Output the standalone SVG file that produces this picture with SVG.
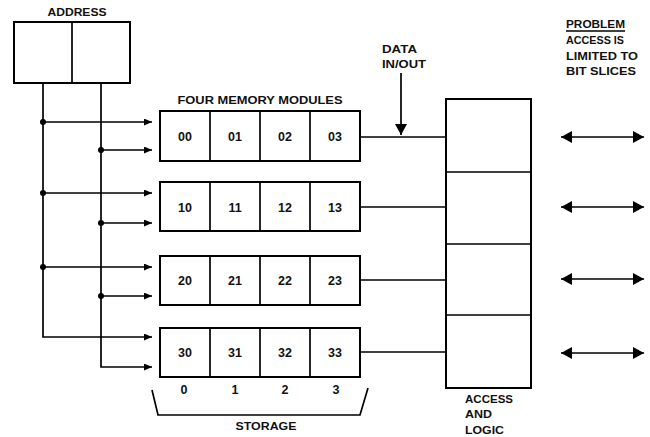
<svg xmlns="http://www.w3.org/2000/svg" width="650" height="437" viewBox="0 0 650 437">
<style>
.ln{stroke:#000;stroke-width:1.7;fill:none}
.bx{stroke:#000;stroke-width:2;fill:#fff}
.t{font-family:"Liberation Sans",Arial,sans-serif;font-weight:bold;font-size:11.5px;fill:#111}
.n{font-size:12.5px}
.c{text-anchor:middle}
.dot{fill:#000}
</style>
<defs>
<marker id="ah" viewBox="0 0 8 7" refX="8" refY="3.5" markerWidth="8" markerHeight="7" markerUnits="userSpaceOnUse" orient="auto">
<path d="M0,0 L8,3.5 L0,7 z" fill="#000"/>
</marker>
<marker id="big" viewBox="0 0 11 12" refX="11" refY="6" markerWidth="11" markerHeight="12" markerUnits="userSpaceOnUse" orient="auto-start-reverse">
<path d="M0,0 L11,6 L0,12 z" fill="#000"/>
</marker>
</defs>
<rect width="650" height="437" fill="#fff"/>

<g id="address">
<text class="t c" x="77" y="16" textLength="59" lengthAdjust="spacingAndGlyphs">ADDRESS</text>
<rect class="bx" x="14" y="22" width="116" height="61"/>
<line class="ln" x1="72" y1="22" x2="72" y2="83" stroke-width="2"/>
</g>

<g id="connectors">
<path class="ln" d="M43,83 V337 H152" marker-end="url(#ah)"/>
<path class="ln" d="M101,83 V367 H152" marker-end="url(#ah)"/>
<line class="ln" x1="43" y1="122" x2="152" y2="122" marker-end="url(#ah)"/>
<line class="ln" x1="101" y1="150" x2="152" y2="150" marker-end="url(#ah)"/>
<line class="ln" x1="43" y1="193" x2="152" y2="193" marker-end="url(#ah)"/>
<line class="ln" x1="101" y1="223" x2="152" y2="223" marker-end="url(#ah)"/>
<line class="ln" x1="43" y1="267" x2="152" y2="267" marker-end="url(#ah)"/>
<line class="ln" x1="101" y1="296" x2="152" y2="296" marker-end="url(#ah)"/>
<circle class="dot" cx="43" cy="122" r="3"/>
<circle class="dot" cx="101" cy="150" r="3"/>
<circle class="dot" cx="43" cy="193" r="3"/>
<circle class="dot" cx="101" cy="223" r="3"/>
<circle class="dot" cx="43" cy="267" r="3"/>
<circle class="dot" cx="101" cy="296" r="3"/>
<line class="ln" x1="360" y1="137" x2="446" y2="137"/>
<line class="ln" x1="360" y1="207" x2="446" y2="207"/>
<line class="ln" x1="360" y1="280" x2="446" y2="280"/>
<line class="ln" x1="360" y1="352" x2="446" y2="352"/>
<line class="ln" x1="401" y1="73" x2="401" y2="135" marker-end="url(#big)"/>
<line class="ln" x1="561" y1="137" x2="644" y2="137" stroke-width="2" marker-start="url(#big)" marker-end="url(#big)"/>
<line class="ln" x1="561" y1="207" x2="644" y2="207" stroke-width="2" marker-start="url(#big)" marker-end="url(#big)"/>
<line class="ln" x1="561" y1="279" x2="644" y2="279" stroke-width="2" marker-start="url(#big)" marker-end="url(#big)"/>
<line class="ln" x1="561" y1="353" x2="644" y2="353" stroke-width="2" marker-start="url(#big)" marker-end="url(#big)"/>
</g>

<g id="storage">
<text class="t c" x="260" y="104" textLength="165" lengthAdjust="spacingAndGlyphs">FOUR MEMORY MODULES</text>
<g id="module0">
<rect class="bx" x="160" y="111" width="200" height="50"/>
<path class="ln" stroke-width="2" d="M210,111 V161 M260,111 V161 M310,111 V161"/>
<text class="t n c" x="185" y="141">00</text><text class="t n c" x="235" y="141">01</text><text class="t n c" x="285" y="141">02</text><text class="t n c" x="335" y="141">03</text>
</g>
<g id="module1">
<rect class="bx" x="160" y="182" width="200" height="49"/>
<path class="ln" stroke-width="2" d="M210,182 V231 M260,182 V231 M310,182 V231"/>
<text class="t n c" x="185" y="211.5">10</text><text class="t n c" x="235" y="211.5">11</text><text class="t n c" x="285" y="211.5">12</text><text class="t n c" x="335" y="211.5">13</text>
</g>
<g id="module2">
<rect class="bx" x="160" y="256" width="200" height="49"/>
<path class="ln" stroke-width="2" d="M210,256 V305 M260,256 V305 M310,256 V305"/>
<text class="t n c" x="185" y="284.5">20</text><text class="t n c" x="235" y="284.5">21</text><text class="t n c" x="285" y="284.5">22</text><text class="t n c" x="335" y="284.5">23</text>
</g>
<g id="module3">
<rect class="bx" x="160" y="328" width="200" height="49"/>
<path class="ln" stroke-width="2" d="M210,328 V377 M260,328 V377 M310,328 V377"/>
<text class="t n c" x="185" y="356.5">30</text><text class="t n c" x="235" y="356.5">31</text><text class="t n c" x="285" y="356.5">32</text><text class="t n c" x="335" y="356.5">33</text>
</g>
<text class="t n c" x="184" y="393.5">0</text><text class="t n c" x="235" y="393.5">1</text><text class="t n c" x="285" y="393.5">2</text><text class="t n c" x="336" y="393.5">3</text>
<path class="ln" stroke-width="1.8" d="M152,390 L158,415 H360 L368,388"/>
<text class="t c" x="266" y="430" textLength="61" lengthAdjust="spacingAndGlyphs">STORAGE</text>
</g>

<g id="data">
<text class="t" x="382" y="53" textLength="35" lengthAdjust="spacingAndGlyphs">DATA</text>
<text class="t" x="382" y="68" textLength="44" lengthAdjust="spacingAndGlyphs">IN/OUT</text>
</g>

<g id="access">
<rect class="bx" x="446" y="99" width="85" height="289"/>
<path class="ln" stroke-width="2" d="M446,172 H531 M446,244 H531 M446,315 H531"/>
<text class="t" x="465" y="403" textLength="48" lengthAdjust="spacingAndGlyphs">ACCESS</text>
<text class="t" x="465" y="418" textLength="27" lengthAdjust="spacingAndGlyphs">AND</text>
<text class="t" x="465" y="434" textLength="39" lengthAdjust="spacingAndGlyphs">LOGIC</text>
</g>

<g id="problem">
<text class="t" x="566" y="28" textLength="59" lengthAdjust="spacingAndGlyphs">PROBLEM</text>
<line class="ln" x1="566" y1="31" x2="625" y2="31" stroke-width="1.3"/>
<text class="t" x="566" y="44" textLength="58" lengthAdjust="spacingAndGlyphs">ACCESS IS</text>
<text class="t" x="566" y="59.5" textLength="72" lengthAdjust="spacingAndGlyphs">LIMITED TO</text>
<text class="t" x="566" y="75" textLength="70" lengthAdjust="spacingAndGlyphs">BIT SLICES</text>
</g>
</svg>
